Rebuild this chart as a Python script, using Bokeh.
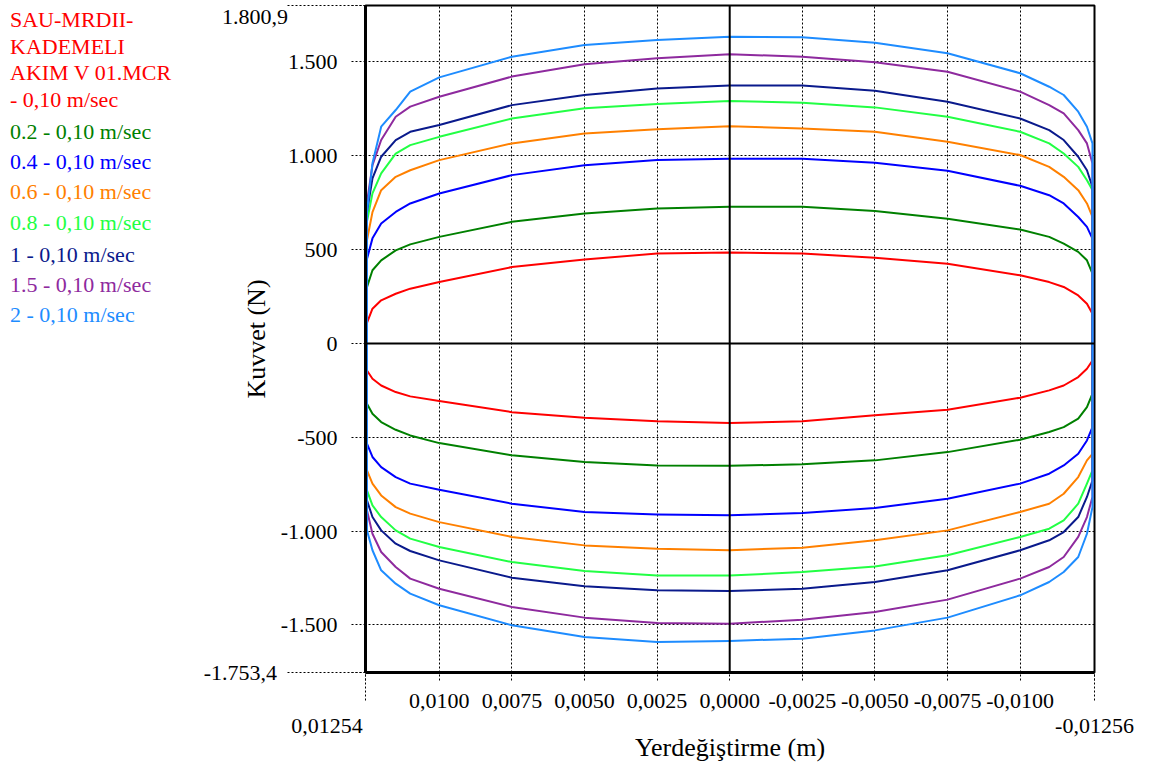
from bokeh.plotting import figure
from bokeh.models import Range1d, FixedTicker, Span, Div
from bokeh.layouts import row
from bokeh.embed import file_html
from bokeh.resources import INLINE

# ---- axis extents and ticks ----
X_LEFT = 0.01254
X_RIGHT = -0.01256
Y_MIN = -1753.4
Y_MAX = 1800.9

x_ticks = [0.01, 0.0075, 0.005, 0.0025, 0.0, -0.0025, -0.005, -0.0075, -0.01]
y_ticks = [-1500, -1000, -500, 0, 500, 1000, 1500]

# ---- displacement sample points (m) ----
disp = [0.01249, 0.0123, 0.012, 0.0115, 0.011, 0.01, 0.0075, 0.005, 0.0025, 0.0,
        -0.0025, -0.005, -0.0075, -0.01, -0.011, -0.0115, -0.012, -0.0123, -0.01249]

# ---- force (N): upper and lower branches, listed left -> right ----
up_00 = [110, 185, 230, 265, 292, 327, 407, 447, 479, 485, 479, 457, 425, 363, 327, 301, 256, 212, 158]
lo_00 = [-144, -188, -224, -259, -282, -307, -366, -396, -415, -424, -414, -383, -353, -289, -250, -224, -179, -135, -91]

up_02 = [300, 390, 443, 496, 528, 568, 648, 692, 719, 728, 728, 706, 665, 607, 568, 532, 488, 443, 372]
lo_02 = [-321, -375, -419, -460, -490, -531, -596, -632, -650, -652, -644, -623, -579, -513, -472, -446, -401, -339, -268]

up_04 = [450, 560, 639, 701, 746, 799, 897, 950, 977, 984, 984, 963, 920, 840, 790, 746, 674, 621, 559]
lo_04 = [-534, -605, -659, -712, -747, -779, -854, -898, -911, -916, -904, -877, -827, -747, -694, -650, -588, -517, -446]

up_06 = [550, 700, 817, 888, 923, 977, 1066, 1119, 1141, 1158, 1146, 1128, 1075, 1004, 941, 888, 817, 746, 674]
lo_06 = [-676, -747, -810, -872, -907, -952, -1031, -1076, -1094, -1102, -1088, -1049, -996, -898, -854, -801, -712, -623, -588]

up_08 = [650, 800, 906, 1012, 1057, 1101, 1199, 1253, 1276, 1292, 1283, 1258, 1208, 1128, 1066, 1012, 941, 870, 817]
lo_08 = [-783, -863, -925, -996, -1040, -1085, -1165, -1213, -1236, -1237, -1218, -1188, -1129, -1031, -987, -943, -854, -747, -676]

up_10 = [700, 880, 995, 1084, 1128, 1164, 1270, 1324, 1359, 1374, 1374, 1347, 1288, 1199, 1137, 1084, 995, 923, 834]
lo_10 = [-836, -925, -996, -1067, -1106, -1156, -1248, -1294, -1315, -1319, -1307, -1271, -1209, -1102, -1049, -1005, -925, -818, -730]

up_15 = [750, 950, 1084, 1208, 1262, 1315, 1422, 1488, 1520, 1541, 1528, 1498, 1448, 1342, 1270, 1226, 1137, 1066, 959]
lo_15 = [-889, -1014, -1111, -1191, -1253, -1307, -1404, -1461, -1489, -1493, -1472, -1431, -1365, -1253, -1191, -1138, -1031, -925, -818]

up_20 = [700, 960, 1155, 1244, 1342, 1418, 1528, 1591, 1617, 1635, 1632, 1603, 1546, 1440, 1368, 1324, 1235, 1155, 1066]
lo_20 = [-996, -1102, -1209, -1280, -1333, -1395, -1502, -1564, -1591, -1585, -1573, -1529, -1461, -1342, -1271, -1218, -1138, -1014, -872]

names = ["SAU-MRDII-KADEMELI AKIM V 01.MCR - 0,10 m/sec", "0.2 - 0,10 m/sec", "0.4 - 0,10 m/sec",
         "0.6 - 0,10 m/sec", "0.8 - 0,10 m/sec", "1 - 0,10 m/sec", "1.5 - 0,10 m/sec", "2 - 0,10 m/sec"]
colors = ["#FF0000", "#008000", "#0000FF", "#FF8000", "#22FF44", "#0A1A8C", "#8E2A9E", "#1E8CFF"]
uppers = [up_00, up_02, up_04, up_06, up_08, up_10, up_15, up_20]
lowers = [lo_00, lo_02, lo_04, lo_06, lo_08, lo_10, lo_15, lo_20]

FONT = "Liberation Serif"
NB = "\u00a0"
LEGEND_W = 195


def fmt_x(v, nd=4):
    return f"{v:.{nd}f}".replace(".", ",")


def fmt_y(v):
    s = f"{v:,.1f}" if v != int(v) else f"{int(v):,}"
    return s.replace(",", "X").replace(".", ",").replace("X", ".")


p = figure(frame_width=729, frame_height=667,
           min_border_left=365 - LEGEND_W, min_border_right=49, min_border_top=5, min_border_bottom=92,
           x_range=Range1d(X_LEFT, X_RIGHT), y_range=Range1d(Y_MIN, Y_MAX),
           output_backend="svg", toolbar_location=None,
           background_fill_color="white", border_fill_color="white")

p.outline_line_color = "black"
p.outline_line_width = 2
p.outline_line_alpha = 1.0

# ---- x axis ----
xa = p.xaxis[0]
xa.ticker = FixedTicker(ticks=x_ticks + [X_LEFT, X_RIGHT], minor_ticks=[X_LEFT, X_RIGHT])
x_over = {v: fmt_x(v) for v in x_ticks}
x_over[X_LEFT] = "\n" + fmt_x(X_LEFT, 5) + NB * 14
x_over[X_RIGHT] = "\n" + fmt_x(X_RIGHT, 5)
xa.major_label_overrides = x_over
xa.axis_line_width = 3
xa.axis_line_color = "black"
xa.major_tick_in = 0
xa.major_tick_out = 8
xa.major_tick_line_dash = "2 2"
xa.major_tick_line_color = "black"
xa.minor_tick_in = 0
xa.minor_tick_out = 28
xa.minor_tick_line_dash = "2 2"
xa.minor_tick_line_color = "black"
xa.major_label_standoff = -13
xa.major_label_text_font = FONT
xa.major_label_text_font_size = "22px"
xa.major_label_text_line_height = 1.0
xa.major_label_text_color = "black"
xa.axis_label = "Yerdeğiştirme (m)"
xa.axis_label_text_font = FONT
xa.axis_label_text_font_size = "26px"
xa.axis_label_text_font_style = "normal"
xa.axis_label_text_color = "black"
xa.axis_label_standoff = -8

# ---- y axis ----
ya = p.yaxis[0]
ya.ticker = FixedTicker(ticks=y_ticks + [Y_MIN, Y_MAX], minor_ticks=[Y_MIN, Y_MAX])
y_over = {v: fmt_y(v) for v in y_ticks}
y_over[Y_MAX] = "\n" + fmt_y(Y_MAX) + NB * 9
y_over[Y_MIN] = fmt_y(Y_MIN) + NB * 11
ya.major_label_overrides = y_over
ya.axis_line_width = 3
ya.axis_line_color = "black"
ya.major_tick_in = 0
ya.major_tick_out = 14
ya.major_tick_line_dash = "2 2"
ya.major_tick_line_color = "black"
ya.minor_tick_in = 0
ya.minor_tick_out = 78
ya.minor_tick_line_dash = "2 2"
ya.minor_tick_line_color = "black"
ya.major_label_standoff = -50
ya.major_label_text_font = FONT
ya.major_label_text_font_size = "22px"
ya.major_label_text_line_height = 0.15
ya.major_label_text_color = "black"
ya.axis_label = "Kuvvet (N)"
ya.axis_label_text_font = FONT
ya.axis_label_text_font_size = "26px"
ya.axis_label_text_font_style = "normal"
ya.axis_label_text_color = "black"
ya.axis_label_standoff = -70

# ---- grids ----
for g in (p.xgrid, p.ygrid):
    g.grid_line_color = "black"
    g.grid_line_dash = "2 2"
    g.grid_line_width = 1
    g.grid_line_alpha = 1.0

# zero lines
p.add_layout(Span(location=0, dimension="width", line_color="black", line_width=2))
p.add_layout(Span(location=0, dimension="height", line_color="black", line_width=2))

# hysteresis loops
for up, lo, c in zip(uppers, lowers, colors):
    xs = disp + disp[::-1] + [disp[0]]
    ys = up + lo[::-1] + [up[0]]
    p.line(xs, ys, line_color=c, line_width=2, line_join="round")

# ---- legend (coloured text list at the left) ----
first = names[0].split(" ")
legend_lines = [("SAU-MRDII-", colors[0]), ("KADEMELI", colors[0]),
                (" ".join(first[1:4]), colors[0]), (" ".join(first[4:]), colors[0])]
legend_lines += [(n, c) for n, c in zip(names[1:], colors[1:])]
legend_centers = [20, 47, 73, 100, 132, 162, 192, 223, 255, 285, 315]
html = [f'<div style="position:relative;width:{LEGEND_W}px;height:330px;'
        'font-family:\'Liberation Serif\';font-size:22px;">']
for (t, c), cy in zip(legend_lines, legend_centers):
    html.append(f'<div style="position:absolute;left:10px;top:{cy - 13}px;line-height:26px;'
                f'white-space:nowrap;color:{c};">{t}</div>')
html.append('</div>')
legend_div = Div(text="".join(html), width=LEGEND_W, height=330, margin=0)

layout = row(legend_div, p, spacing=0)

open("out.html", "w").write(file_html(layout, INLINE))
